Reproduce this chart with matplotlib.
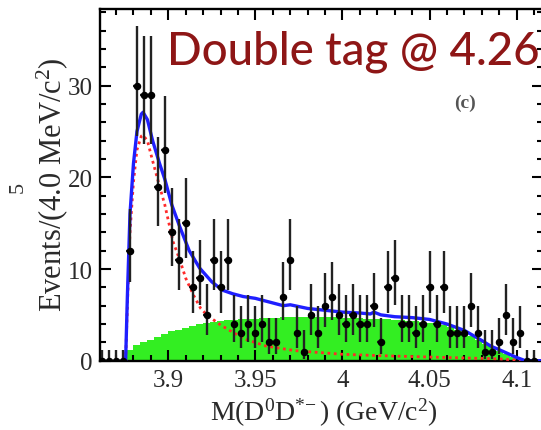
import numpy as np
import matplotlib
matplotlib.use("Agg")
import matplotlib.pyplot as plt
from matplotlib.ticker import MultipleLocator, FixedLocator, FixedFormatter

plt.rcParams['font.family'] = ['Liberation Serif', 'DejaVu Serif']
plt.rcParams['mathtext.fontset'] = 'custom'
plt.rcParams['mathtext.rm'] = 'Liberation Serif'
plt.rcParams['mathtext.it'] = 'Liberation Serif:italic'

# ---- data ----
bin_centers = np.round(np.arange(3.862, 4.1111, 0.004), 3)
counts = [0, 0, 0, 0,
          12, 30, 29, 29, 19, 23, 14, 11, 15, 8, 9, 5, 11, 8, 11, 4, 3, 4, 3, 4,
          2, 2, 7, 11, 3, 1, 5, 3, 6, 7, 5, 4, 5, 4, 4, 6, 2, 8, 9, 4, 4, 3, 4,
          8, 4, 8, 3, 3, 3, 6, 3, 1, 1, 2, 5, 2, 3,
          0, 0]

bkg_edges = np.round(np.arange(3.876, 4.1041, 0.004), 3)
bkg_values = [1.2, 1.7, 2.0, 2.3, 2.6, 2.9, 3.2, 3.4, 3.6, 3.8, 4.0, 4.1, 4.2, 4.3,
              4.4, 4.45, 4.5, 4.55, 4.6, 4.65, 4.7, 4.7, 4.75, 4.8, 4.8, 4.8, 4.8,
              4.8, 4.8, 4.75, 4.75, 4.7, 4.7, 4.65, 4.6, 4.6, 4.55, 4.5, 4.45, 4.4,
              4.35, 4.3, 4.25, 4.15, 4.0, 3.85, 3.65, 3.4, 3.1, 2.7, 2.25, 1.85,
              1.45, 1.05, 0.7, 0.4, 0.12]

sig_x = [3.8755, 3.8765, 3.878, 3.880, 3.882, 3.8845, 3.8855, 3.888, 3.891, 3.8946,
         3.898, 3.9027, 3.9066, 3.910, 3.9146, 3.9186, 3.9227, 3.930, 3.937, 3.945,
         3.956, 3.9726, 3.986, 4.000, 4.0214, 4.050, 4.070, 4.090, 4.104]
sig_y = [0.0, 6.0, 14.0, 19.5, 23.0, 24.5, 24.6, 24.0, 21.8, 19.3,
         17.0, 13.0, 11.0, 9.0, 7.1, 5.7, 4.9, 3.9, 3.1, 2.3,
         1.6, 1.1, 0.9, 0.7, 0.55, 0.4, 0.3, 0.2, 0.0]

tot_x = [3.8755, 3.8765, 3.878, 3.880, 3.882, 3.8845, 3.8855, 3.888, 3.891, 3.895,
         3.898, 3.902, 3.9066, 3.912, 3.918, 3.925, 3.931, 3.937, 3.943, 3.950,
         3.956, 3.962, 3.966, 3.970, 3.975, 3.980, 3.990, 4.000, 4.010, 4.016,
         4.018, 4.022, 4.030, 4.040, 4.050, 4.060, 4.070, 4.080, 4.085, 4.090,
         4.100, 4.105, 4.116]
tot_y = [0.0, 7.0, 16.0, 21.5, 25.0, 26.9, 27.1, 26.3, 24.0, 21.5,
         19.8, 17.0, 14.6, 12.0, 10.1, 8.6, 7.7, 7.3, 7.0, 6.8,
         6.5, 6.2, 6.0, 6.1, 5.9, 5.7, 5.5, 5.3, 5.2, 5.1,
         5.3, 5.0, 4.8, 4.7, 4.5, 4.0, 3.3, 2.2, 1.6, 1.2,
         0.35, 0.0, 0.0]

xticks = [3.9, 3.95, 4.0, 4.05, 4.1]
xticklabels = ['3.9', '3.95', '4', '4.05', '4.1']
yticks = [0, 10, 20, 30]

# ---- Poisson (Gehrels) statistical error bars ----
n = np.array(counts, dtype=float)
up = np.where(n > 0, n + np.sqrt(n + 0.75) + 1.0, 1.15)
safe = np.where(n > 0, n, 1.0)
lo = np.where(n > 0, safe * (1 - 1 / (9 * safe) - 1 / (3 * np.sqrt(safe))) ** 3, 0.0)
yerr = np.vstack([n - lo, up - n])

# ---- figure ----
W, H = 541, 431
fig = plt.figure(figsize=(W / 100, H / 100), dpi=100)
left, right, top, bottom = 99.5, 543.0, 10.0, 361.7
ax = fig.add_axes([left / W, 1 - bottom / H, (right - left) / W, (bottom - top) / H])

green = '#33ee22'
ax.stairs(bkg_values, bkg_edges, fill=True, color=green, linewidth=0, zorder=1)
ax.plot(sig_x, sig_y, color='#ff2a2a', lw=2.0, linestyle=(0, (1.0, 1.3)), zorder=3)
ax.plot(tot_x, tot_y, color='#1f1fff', lw=2.4, zorder=4)
ax.errorbar(bin_centers, counts, yerr=yerr, xerr=0.002, fmt='o', color='black',
            ecolor='#222222', elinewidth=1.7, markersize=4.4, capsize=0, zorder=5)

ax.set_xlim(3.8605, 4.0 + (right - 342.7) / 1740.0)
ax.set_ylim(0, (bottom - top) / 9.167)

ax.xaxis.set_major_locator(FixedLocator(xticks))
ax.xaxis.set_major_formatter(FixedFormatter(xticklabels))
ax.xaxis.set_minor_locator(MultipleLocator(0.01))
ax.yaxis.set_major_locator(FixedLocator(yticks))
ax.yaxis.set_minor_locator(MultipleLocator(2))
ax.tick_params(which='both', direction='in', top=True, right=True, colors='black',
               labelcolor='#2a2a2a', width=1.5)
ax.tick_params(which='major', length=8, labelsize=18)
ax.tick_params(which='minor', length=4)
ax.tick_params(axis='x', which='major', pad=6)
ax.tick_params(axis='y', which='major', pad=5)
for s in ax.spines.values():
    s.set_linewidth(1.7)

# axis titles
fig.text(324 / W, 1 - 413 / H, r'M(D$^{0}$D$^{*\!-}$) (GeV/c$^{2}$)', ha='center',
         va='center', fontsize=20, color='#2a2a2a')
fig.text(52 / W, 1 - 185 / H, r'Events/(4.0 MeV/c$^{2}$)', ha='center', va='center',
         rotation=90, fontsize=22, color='#2a2a2a')

# annotations
title = fig.text(167 / W, 1 - 65 / H, 'Double tag @ 4.26', ha='left', va='baseline',
                 fontsize=33, color='#8e1616', family=['Lato', 'DejaVu Sans'],
                 fontweight='medium')
fig.canvas.draw()
bb = title.get_window_extent(renderer=fig.canvas.get_renderer())
title.set_fontsize(33 * 374.0 / bb.width)

fig.text(465 / W, 1 - 103 / H, '(c)', ha='center', va='center', fontsize=14,
         color='#555555', fontweight='bold')
fig.text(18 / W, 1 - 187 / H, '5', ha='center', va='center', rotation=90,
         fontsize=16, color='#333333')

fig.savefig('out.png', dpi=100)
